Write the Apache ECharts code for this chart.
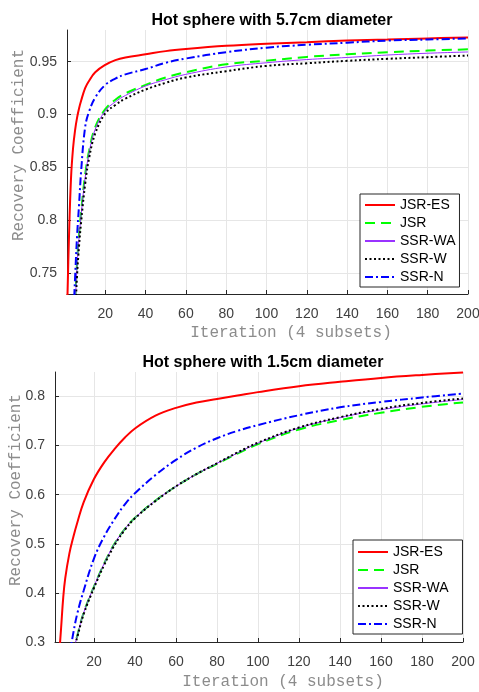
<!DOCTYPE html>
<html>
<head>
<meta charset="utf-8">
<script src="https://cdn.jsdelivr.net/npm/echarts@6/dist/echarts.min.js"></script>
<style>
  html, body { margin: 0; padding: 0; background: #fff; }
  #chart { width: 479px; height: 692px; }
</style>
</head>
<body>
<div id="chart"></div>
<script>
// Iterations sampled from the figure (4 subsets)
const iterTop = [1, 2, 3, 4, 5, 6, 7, 8, 10, 12, 15, 20, 25, 30, 40, 50, 60, 80, 100, 120, 140, 160, 180, 200];
const jsrEsTop = [0.71, 0.785, 0.84, 0.868, 0.885, 0.897, 0.906, 0.913, 0.925, 0.932, 0.940, 0.947, 0.9515, 0.954, 0.957, 0.960, 0.962, 0.965, 0.967, 0.9685, 0.970, 0.971, 0.972, 0.973];
const jsrTop = [0.45, 0.52, 0.60, 0.67, 0.72, 0.76, 0.787, 0.808, 0.843, 0.866, 0.888, 0.905, 0.914, 0.920, 0.928, 0.935, 0.940, 0.9475, 0.951, 0.9545, 0.957, 0.959, 0.9605, 0.9617];
const ssrWaTop = [0.44, 0.51, 0.59, 0.665, 0.715, 0.757, 0.784, 0.805, 0.840, 0.864, 0.886, 0.9035, 0.912, 0.918, 0.927, 0.933, 0.938, 0.945, 0.949, 0.952, 0.954, 0.9563, 0.958, 0.9592];
const ssrWTop = [0.43, 0.50, 0.58, 0.655, 0.705, 0.748, 0.776, 0.798, 0.834, 0.859, 0.882, 0.901, 0.909, 0.915, 0.9236, 0.930, 0.935, 0.941, 0.946, 0.9485, 0.9508, 0.9527, 0.9543, 0.9558];
const ssrNTop = [0.50, 0.58, 0.64, 0.70, 0.745, 0.785, 0.815, 0.846, 0.888, 0.903, 0.916, 0.928, 0.934, 0.938, 0.943, 0.949, 0.953, 0.959, 0.9633, 0.966, 0.968, 0.970, 0.971, 0.972];

const iterBottom = [2, 3, 4, 5, 6, 8, 10, 12, 15, 20, 25, 30, 35, 40, 50, 60, 70, 80, 90, 100, 120, 140, 160, 180, 200];
const jsrEsBottom = [0.20, 0.27, 0.33, 0.39, 0.43, 0.48, 0.515, 0.545, 0.585, 0.632, 0.666, 0.693, 0.716, 0.735, 0.761, 0.777, 0.788, 0.795, 0.802, 0.809, 0.821, 0.830, 0.838, 0.844, 0.849];
const jsrBottom = [0.05, 0.08, 0.11, 0.14, 0.17, 0.23, 0.28, 0.315, 0.36, 0.413, 0.46, 0.50, 0.53, 0.553, 0.588, 0.617, 0.642, 0.663, 0.684, 0.703, 0.733, 0.752, 0.767, 0.779, 0.788];
const ssrWaBottom = [0.05, 0.08, 0.11, 0.14, 0.17, 0.23, 0.28, 0.315, 0.36, 0.413, 0.46, 0.50, 0.53, 0.553, 0.588, 0.617, 0.642, 0.664, 0.685, 0.705, 0.736, 0.757, 0.773, 0.785, 0.794];
const ssrWBottom = [0.05, 0.08, 0.11, 0.14, 0.17, 0.23, 0.28, 0.312, 0.357, 0.41, 0.457, 0.497, 0.528, 0.552, 0.587, 0.617, 0.642, 0.664, 0.686, 0.706, 0.737, 0.758, 0.775, 0.787, 0.796];
const ssrNBottom = [0.08, 0.11, 0.14, 0.18, 0.21, 0.27, 0.32, 0.36, 0.405, 0.47, 0.515, 0.55, 0.58, 0.603, 0.64, 0.671, 0.696, 0.715, 0.73, 0.742, 0.762, 0.778, 0.789, 0.798, 0.806];

const xTicks = [20, 40, 60, 80, 100, 120, 140, 160, 180, 200];
const yTicksTop = [0.75, 0.8, 0.85, 0.9, 0.95];
const yTicksBottom = [0.3, 0.4, 0.5, 0.6, 0.7, 0.8];

const names = ['JSR-ES', 'JSR', 'SSR-WA', 'SSR-W', 'SSR-N'];
const lineStyles = {
  'JSR-ES': { color: '#ff0000', width: 2, type: 'solid' },
  'JSR': { color: '#00ff00', width: 2, type: [10, 6] },
  'SSR-WA': { color: '#9933ff', width: 1, type: 'solid' },
  'SSR-W': { color: '#000000', width: 2, type: [2, 2.5] },
  'SSR-N': { color: '#0000ff', width: 2, type: [8, 3, 2, 3] }
};

const pair = (xs, ys) => xs.map((x, i) => [x, ys[i]]);

const chart = echarts.init(document.getElementById('chart'));

const labelFont = { fontFamily: 'Liberation Sans', fontSize: 14, color: '#404040' };
const nameFont = { fontFamily: 'Liberation Mono', fontSize: 16, color: '#8c8c8c' };

function makeX(gridIndex, nameGap, namePad) {
  return {
    type: 'value', gridIndex: gridIndex, min: 1, max: 200,
    name: 'Iteration (4 subsets)', nameLocation: 'middle', nameGap: nameGap,
    nameMoveOverlap: false,
    nameTextStyle: Object.assign({ padding: [0, 0, 0, namePad] }, nameFont),
    axisLine: { show: true, onZero: false, lineStyle: { color: '#262626', width: 1 } },
    axisTick: { show: true, inside: true, length: 4, customValues: xTicks, lineStyle: { color: '#262626' } },
    axisLabel: Object.assign({ margin: 13, customValues: xTicks }, labelFont),
    splitLine: { show: true, lineStyle: { color: '#e6e6e6', width: 1 } }
  };
}

function makeY(gridIndex, min, max, ticks, nameGap) {
  return {
    type: 'value', gridIndex: gridIndex, min: min, max: max,
    name: 'Recovery Coefficient', nameLocation: 'middle', nameGap: nameGap,
    nameMoveOverlap: false,
    nameTextStyle: Object.assign({ padding: [0, 0, 0, 34] }, nameFont),
    axisLine: { show: true, onZero: false, lineStyle: { color: '#262626', width: 1 } },
    axisTick: { show: true, inside: true, length: 4, customValues: ticks, lineStyle: { color: '#262626' } },
    axisLabel: Object.assign({ margin: 10, customValues: ticks }, labelFont),
    splitLine: { show: true, lineStyle: { color: '#e6e6e6', width: 1 } }
  };
}

function makeSeries(name, data, idx) {
  return {
    name: name, type: 'line', xAxisIndex: idx, yAxisIndex: idx,
    data: data, symbol: 'none', smooth: 0.4,
    lineStyle: lineStyles[name], itemStyle: { color: lineStyles[name].color },
    emphasis: { disabled: true }, clip: true
  };
}

function makeLegend(left, top, padding) {
  return {
    orient: 'vertical', left: left, top: top, data: names,
    itemWidth: 30, itemHeight: 14, itemGap: 4, padding: padding,
    backgroundColor: '#fff', borderColor: '#262626', borderWidth: 1,
    itemStyle: { opacity: 0 },
    textStyle: { fontFamily: 'Liberation Sans', fontSize: 14, color: '#000' },
    selectedMode: false
  };
}

const option = {
  animation: false,
  backgroundColor: '#fff',
  title: [
    { text: 'Hot sphere with 5.7cm diameter', left: 267, top: 8, textAlign: 'center',
      textStyle: { fontFamily: 'Liberation Sans', fontSize: 16, fontWeight: 'bold', color: '#000' } },
    { text: 'Hot sphere with 1.5cm diameter', left: 258, top: 350, textAlign: 'center',
      textStyle: { fontFamily: 'Liberation Sans', fontSize: 16, fontWeight: 'bold', color: '#000' } }
  ],
  grid: [
    { left: 67, right: 11, top: 30, height: 264, outerBoundsMode: 'none', containLabel: false },
    { left: 55, right: 16, top: 372, height: 270, outerBoundsMode: 'none', containLabel: false }
  ],
  xAxis: [makeX(0, 31, 47), makeX(1, 32, 48)],
  yAxis: [
    makeY(0, 0.73, 0.98, yTicksTop, 40),
    makeY(1, 0.3, 0.85, yTicksBottom, 31)
  ],
  legend: [
    makeLegend(360, 194, [4, 4, 3, 4]),
    makeLegend(353, 540, [5, 14, 3, 4])
  ],
  series: [
    makeSeries('JSR-ES', pair(iterTop, jsrEsTop), 0),
    makeSeries('JSR', pair(iterTop, jsrTop), 0),
    makeSeries('SSR-WA', pair(iterTop, ssrWaTop), 0),
    makeSeries('SSR-W', pair(iterTop, ssrWTop), 0),
    makeSeries('SSR-N', pair(iterTop, ssrNTop), 0),
    makeSeries('JSR-ES', pair(iterBottom, jsrEsBottom), 1),
    makeSeries('JSR', pair(iterBottom, jsrBottom), 1),
    makeSeries('SSR-WA', pair(iterBottom, ssrWaBottom), 1),
    makeSeries('SSR-W', pair(iterBottom, ssrWBottom), 1),
    makeSeries('SSR-N', pair(iterBottom, ssrNBottom), 1)
  ]
};

chart.setOption(option);
</script>
</body>
</html>
